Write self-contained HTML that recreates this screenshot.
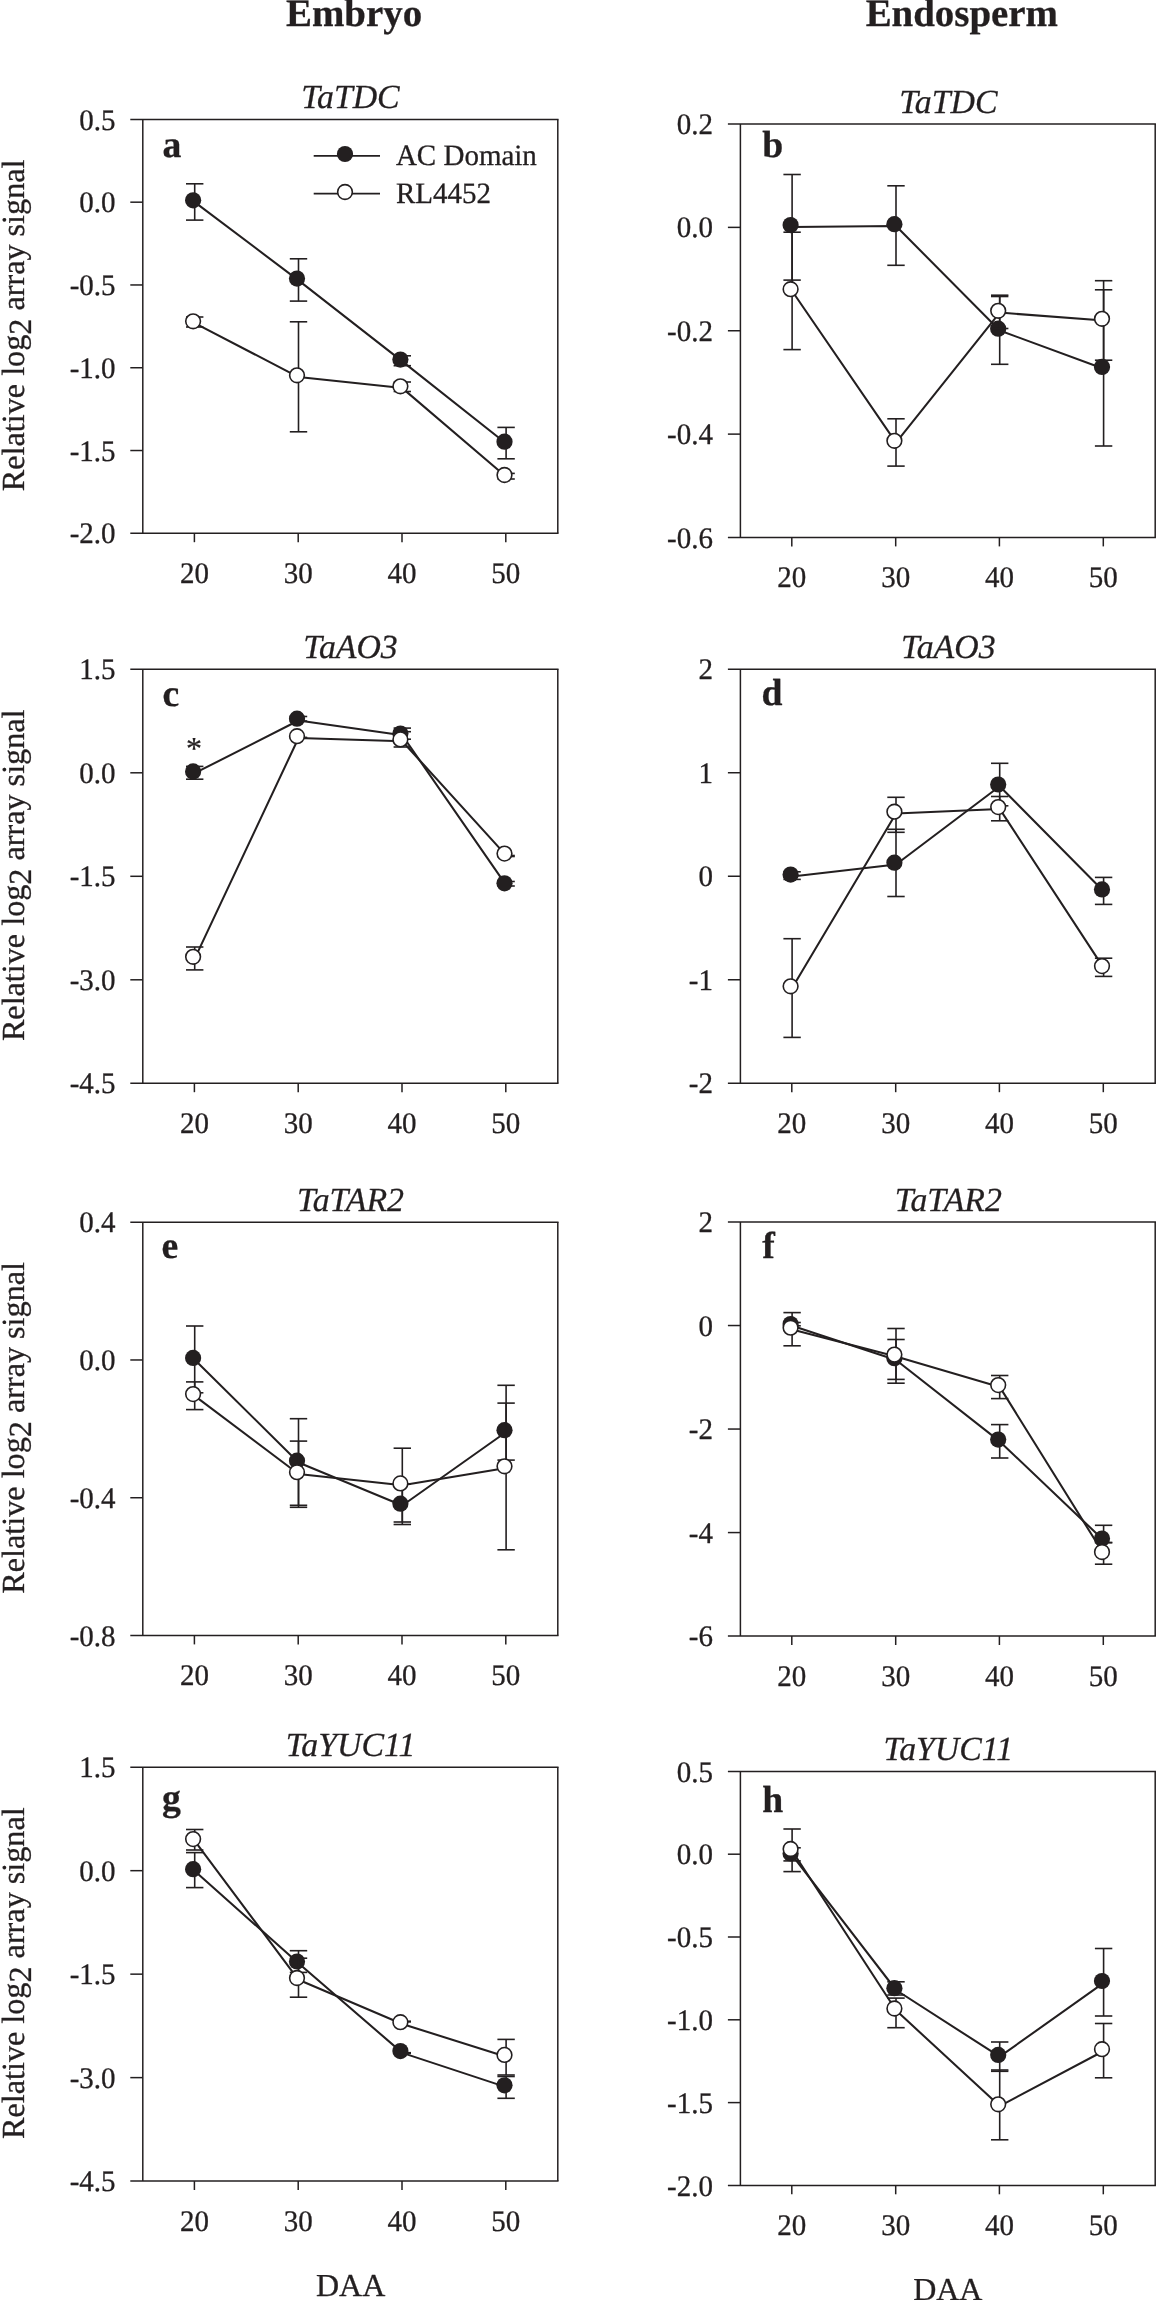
<!DOCTYPE html>
<html><head><meta charset="utf-8"><title>Figure</title>
<style>
html,body{margin:0;padding:0;background:#fff;}
svg{display:block;will-change:transform;font-family:"Liberation Serif",serif;fill:#231f20;}
text{text-rendering:geometricPrecision;stroke:#231f20;stroke-width:0.3px;stroke-linejoin:round;}
</style></head><body>
<svg width="1156" height="2300" viewBox="0 0 1156 2300">
<rect x="0" y="0" width="1156" height="2300" fill="#fff"/>
<g stroke="#231f20">
<line x1="130.3" y1="119.4" x2="558.55" y2="119.4" stroke-width="1.5"/>
<line x1="130.3" y1="533.3" x2="558.55" y2="533.3" stroke-width="1.5"/>
<line x1="142.8" y1="119.4" x2="142.8" y2="533.3" stroke-width="1.5"/>
<line x1="557.8" y1="119.4" x2="557.8" y2="533.3" stroke-width="1.5"/>
<line x1="130.3" y1="202.18" x2="142.8" y2="202.18" stroke-width="1.5"/>
<line x1="130.3" y1="284.96" x2="142.8" y2="284.96" stroke-width="1.5"/>
<line x1="130.3" y1="367.74" x2="142.8" y2="367.74" stroke-width="1.5"/>
<line x1="130.3" y1="450.52" x2="142.8" y2="450.52" stroke-width="1.5"/>
<line x1="194.4" y1="533.3" x2="194.4" y2="542.2" stroke-width="1.5"/>
<line x1="298.2" y1="533.3" x2="298.2" y2="542.2" stroke-width="1.5"/>
<line x1="402" y1="533.3" x2="402" y2="542.2" stroke-width="1.5"/>
<line x1="505.8" y1="533.3" x2="505.8" y2="542.2" stroke-width="1.5"/>
<path d="M194.7 202.1 L298.5 280.4 L402.3 361.4 L506.1 443.5" fill="none" stroke-width="2.05" stroke-linejoin="round"/>
<line x1="194.7" y1="183.8" x2="194.7" y2="220.1" stroke-width="1.6"/>
<line x1="186" y1="183.8" x2="203.4" y2="183.8" stroke-width="1.6"/>
<line x1="186" y1="220.1" x2="203.4" y2="220.1" stroke-width="1.6"/>
<line x1="298.5" y1="258.8" x2="298.5" y2="301.1" stroke-width="1.6"/>
<line x1="289.8" y1="258.8" x2="307.2" y2="258.8" stroke-width="1.6"/>
<line x1="289.8" y1="301.1" x2="307.2" y2="301.1" stroke-width="1.6"/>
<line x1="402.3" y1="355.8" x2="402.3" y2="365.7" stroke-width="1.6"/>
<line x1="393.6" y1="355.8" x2="411" y2="355.8" stroke-width="1.6"/>
<line x1="393.6" y1="365.7" x2="411" y2="365.7" stroke-width="1.6"/>
<line x1="506.1" y1="427.4" x2="506.1" y2="458.8" stroke-width="1.6"/>
<line x1="497.4" y1="427.4" x2="514.8" y2="427.4" stroke-width="1.6"/>
<line x1="497.4" y1="458.8" x2="514.8" y2="458.8" stroke-width="1.6"/>
<circle cx="193.1" cy="200.3" r="8.1" fill="#231f20" stroke="none"/>
<circle cx="297" cy="278.6" r="8.1" fill="#231f20" stroke="none"/>
<circle cx="400.4" cy="359.6" r="8.1" fill="#231f20" stroke="none"/>
<circle cx="504.5" cy="441.7" r="8.1" fill="#231f20" stroke="none"/>
<path d="M194.7 323.1 L298.5 377.1 L402.3 388.1 L506.1 476.8" fill="none" stroke-width="2.05" stroke-linejoin="round"/>
<line x1="194.7" y1="317" x2="194.7" y2="327" stroke-width="1.6"/>
<line x1="186" y1="317" x2="203.4" y2="317" stroke-width="1.6"/>
<line x1="186" y1="327" x2="203.4" y2="327" stroke-width="1.6"/>
<line x1="298.5" y1="321.8" x2="298.5" y2="431.8" stroke-width="1.6"/>
<line x1="289.8" y1="321.8" x2="307.2" y2="321.8" stroke-width="1.6"/>
<line x1="289.8" y1="431.8" x2="307.2" y2="431.8" stroke-width="1.6"/>
<line x1="402.3" y1="382" x2="402.3" y2="391.5" stroke-width="1.6"/>
<line x1="393.6" y1="382" x2="411" y2="382" stroke-width="1.6"/>
<line x1="393.6" y1="391.5" x2="411" y2="391.5" stroke-width="1.6"/>
<line x1="506.1" y1="473.4" x2="506.1" y2="479" stroke-width="1.6"/>
<line x1="497.4" y1="473.4" x2="514.8" y2="473.4" stroke-width="1.6"/>
<line x1="497.4" y1="479" x2="514.8" y2="479" stroke-width="1.6"/>
<circle cx="193.1" cy="321.3" r="7.35" fill="#fff" stroke-width="1.6"/>
<circle cx="297" cy="375.3" r="7.35" fill="#fff" stroke-width="1.6"/>
<circle cx="400.4" cy="386.3" r="7.35" fill="#fff" stroke-width="1.6"/>
<circle cx="504.5" cy="475" r="7.35" fill="#fff" stroke-width="1.6"/>
</g>
<text transform="translate(115.6 129.5) scale(1 1.03)" font-size="29" text-anchor="end">0.5</text>
<text transform="translate(115.6 212.28) scale(1 1.03)" font-size="29" text-anchor="end">0.0</text>
<text transform="translate(115.6 295.06) scale(1 1.03)" font-size="29" text-anchor="end">-0.5</text>
<text transform="translate(115.6 377.84) scale(1 1.03)" font-size="29" text-anchor="end">-1.0</text>
<text transform="translate(115.6 460.62) scale(1 1.03)" font-size="29" text-anchor="end">-1.5</text>
<text transform="translate(115.6 543.4) scale(1 1.03)" font-size="29" text-anchor="end">-2.0</text>
<text transform="translate(194.4 583.1) scale(1 1.03)" font-size="29" text-anchor="middle">20</text>
<text transform="translate(298.2 583.1) scale(1 1.03)" font-size="29" text-anchor="middle">30</text>
<text transform="translate(402 583.1) scale(1 1.03)" font-size="29" text-anchor="middle">40</text>
<text transform="translate(505.8 583.1) scale(1 1.03)" font-size="29" text-anchor="middle">50</text>
<text x="350.5" y="108.1" font-size="33.8" font-style="italic" text-anchor="middle">TaTDC</text>
<text x="162.5" y="156.5" font-size="37.7" font-weight="bold">a</text>
<text transform="translate(24.2 325.35) rotate(-90)" font-size="32.2" text-anchor="middle">Relative log<tspan dy="7">2</tspan><tspan dy="-7"> array signal</tspan></text>
<g stroke="#231f20">
<line x1="727.9" y1="124" x2="1155.95" y2="124" stroke-width="1.5"/>
<line x1="727.9" y1="537.5" x2="1155.95" y2="537.5" stroke-width="1.5"/>
<line x1="740.4" y1="124" x2="740.4" y2="537.5" stroke-width="1.5"/>
<line x1="1155.2" y1="124" x2="1155.2" y2="537.5" stroke-width="1.5"/>
<line x1="727.9" y1="227.38" x2="740.4" y2="227.38" stroke-width="1.5"/>
<line x1="727.9" y1="330.75" x2="740.4" y2="330.75" stroke-width="1.5"/>
<line x1="727.9" y1="434.12" x2="740.4" y2="434.12" stroke-width="1.5"/>
<line x1="791.8" y1="537.5" x2="791.8" y2="546.4" stroke-width="1.5"/>
<line x1="895.7" y1="537.5" x2="895.7" y2="546.4" stroke-width="1.5"/>
<line x1="999.4" y1="537.5" x2="999.4" y2="546.4" stroke-width="1.5"/>
<line x1="1103.3" y1="537.5" x2="1103.3" y2="546.4" stroke-width="1.5"/>
<path d="M792.1 226.9 L896 226 L999.7 330.5 L1103.6 368.7" fill="none" stroke-width="2.05" stroke-linejoin="round"/>
<line x1="792.1" y1="174.5" x2="792.1" y2="280.1" stroke-width="1.6"/>
<line x1="783.4" y1="174.5" x2="800.8" y2="174.5" stroke-width="1.6"/>
<line x1="783.4" y1="280.1" x2="800.8" y2="280.1" stroke-width="1.6"/>
<line x1="896" y1="185.8" x2="896" y2="265.3" stroke-width="1.6"/>
<line x1="887.3" y1="185.8" x2="904.7" y2="185.8" stroke-width="1.6"/>
<line x1="887.3" y1="265.3" x2="904.7" y2="265.3" stroke-width="1.6"/>
<line x1="999.7" y1="296.5" x2="999.7" y2="364.3" stroke-width="1.6"/>
<line x1="991" y1="296.5" x2="1008.4" y2="296.5" stroke-width="1.6"/>
<line x1="991" y1="364.3" x2="1008.4" y2="364.3" stroke-width="1.6"/>
<line x1="1103.6" y1="289.8" x2="1103.6" y2="446" stroke-width="1.6"/>
<line x1="1094.9" y1="289.8" x2="1112.3" y2="289.8" stroke-width="1.6"/>
<line x1="1094.9" y1="446" x2="1112.3" y2="446" stroke-width="1.6"/>
<circle cx="790.6" cy="225.1" r="8.1" fill="#231f20" stroke="none"/>
<circle cx="894.4" cy="224.2" r="8.1" fill="#231f20" stroke="none"/>
<circle cx="998.2" cy="328.7" r="8.1" fill="#231f20" stroke="none"/>
<circle cx="1102" cy="366.9" r="8.1" fill="#231f20" stroke="none"/>
<path d="M792.1 291 L896 442.6 L999.7 312.6 L1103.6 320.6" fill="none" stroke-width="2.05" stroke-linejoin="round"/>
<line x1="792.1" y1="232.2" x2="792.1" y2="349.6" stroke-width="1.6"/>
<line x1="783.4" y1="232.2" x2="800.8" y2="232.2" stroke-width="1.6"/>
<line x1="783.4" y1="349.6" x2="800.8" y2="349.6" stroke-width="1.6"/>
<line x1="896" y1="418.8" x2="896" y2="466.1" stroke-width="1.6"/>
<line x1="887.3" y1="418.8" x2="904.7" y2="418.8" stroke-width="1.6"/>
<line x1="887.3" y1="466.1" x2="904.7" y2="466.1" stroke-width="1.6"/>
<line x1="999.7" y1="295.2" x2="999.7" y2="328.5" stroke-width="1.6"/>
<line x1="991" y1="295.2" x2="1008.4" y2="295.2" stroke-width="1.6"/>
<line x1="991" y1="328.5" x2="1008.4" y2="328.5" stroke-width="1.6"/>
<line x1="1103.6" y1="280.7" x2="1103.6" y2="360.2" stroke-width="1.6"/>
<line x1="1094.9" y1="280.7" x2="1112.3" y2="280.7" stroke-width="1.6"/>
<line x1="1094.9" y1="360.2" x2="1112.3" y2="360.2" stroke-width="1.6"/>
<circle cx="790.6" cy="289.2" r="7.35" fill="#fff" stroke-width="1.6"/>
<circle cx="894.4" cy="440.8" r="7.35" fill="#fff" stroke-width="1.6"/>
<circle cx="998.2" cy="310.8" r="7.35" fill="#fff" stroke-width="1.6"/>
<circle cx="1102" cy="318.8" r="7.35" fill="#fff" stroke-width="1.6"/>
</g>
<text transform="translate(713 134.1) scale(1 1.03)" font-size="29" text-anchor="end">0.2</text>
<text transform="translate(713 237.47) scale(1 1.03)" font-size="29" text-anchor="end">0.0</text>
<text transform="translate(713 340.85) scale(1 1.03)" font-size="29" text-anchor="end">-0.2</text>
<text transform="translate(713 444.23) scale(1 1.03)" font-size="29" text-anchor="end">-0.4</text>
<text transform="translate(713 547.6) scale(1 1.03)" font-size="29" text-anchor="end">-0.6</text>
<text transform="translate(791.8 587.3) scale(1 1.03)" font-size="29" text-anchor="middle">20</text>
<text transform="translate(895.7 587.3) scale(1 1.03)" font-size="29" text-anchor="middle">30</text>
<text transform="translate(999.4 587.3) scale(1 1.03)" font-size="29" text-anchor="middle">40</text>
<text transform="translate(1103.3 587.3) scale(1 1.03)" font-size="29" text-anchor="middle">50</text>
<text x="948.3" y="112.7" font-size="33.8" font-style="italic" text-anchor="middle">TaTDC</text>
<text x="762.3" y="156.5" font-size="37.7" font-weight="bold">b</text>
<g stroke="#231f20">
<line x1="130.3" y1="669.3" x2="558.55" y2="669.3" stroke-width="1.5"/>
<line x1="130.3" y1="1083.3" x2="558.55" y2="1083.3" stroke-width="1.5"/>
<line x1="142.8" y1="669.3" x2="142.8" y2="1083.3" stroke-width="1.5"/>
<line x1="557.8" y1="669.3" x2="557.8" y2="1083.3" stroke-width="1.5"/>
<line x1="130.3" y1="772.8" x2="142.8" y2="772.8" stroke-width="1.5"/>
<line x1="130.3" y1="876.3" x2="142.8" y2="876.3" stroke-width="1.5"/>
<line x1="130.3" y1="979.8" x2="142.8" y2="979.8" stroke-width="1.5"/>
<line x1="194.4" y1="1083.3" x2="194.4" y2="1092.2" stroke-width="1.5"/>
<line x1="298.2" y1="1083.3" x2="298.2" y2="1092.2" stroke-width="1.5"/>
<line x1="402" y1="1083.3" x2="402" y2="1092.2" stroke-width="1.5"/>
<line x1="505.8" y1="1083.3" x2="505.8" y2="1092.2" stroke-width="1.5"/>
<path d="M194.7 773.2 L298.5 720.5 L402.3 735.3 L506.1 885.1" fill="none" stroke-width="2.05" stroke-linejoin="round"/>
<line x1="194.7" y1="766.4" x2="194.7" y2="779.2" stroke-width="1.6"/>
<line x1="186" y1="766.4" x2="203.4" y2="766.4" stroke-width="1.6"/>
<line x1="186" y1="779.2" x2="203.4" y2="779.2" stroke-width="1.6"/>
<line x1="298.5" y1="716.5" x2="298.5" y2="721" stroke-width="1.6"/>
<line x1="289.8" y1="716.5" x2="307.2" y2="716.5" stroke-width="1.6"/>
<line x1="289.8" y1="721" x2="307.2" y2="721" stroke-width="1.6"/>
<line x1="402.3" y1="728.1" x2="402.3" y2="739.2" stroke-width="1.6"/>
<line x1="393.6" y1="728.1" x2="411" y2="728.1" stroke-width="1.6"/>
<line x1="393.6" y1="739.2" x2="411" y2="739.2" stroke-width="1.6"/>
<line x1="506.1" y1="881.5" x2="506.1" y2="886" stroke-width="1.6"/>
<line x1="497.4" y1="881.5" x2="514.8" y2="881.5" stroke-width="1.6"/>
<line x1="497.4" y1="886" x2="514.8" y2="886" stroke-width="1.6"/>
<circle cx="193.1" cy="771.4" r="8.1" fill="#231f20" stroke="none"/>
<circle cx="297" cy="718.7" r="8.1" fill="#231f20" stroke="none"/>
<circle cx="400.4" cy="733.5" r="8.1" fill="#231f20" stroke="none"/>
<circle cx="504.5" cy="883.3" r="8.1" fill="#231f20" stroke="none"/>
<path d="M194.7 958.6 L298.5 738 L402.3 741.2 L506.1 855.4" fill="none" stroke-width="2.05" stroke-linejoin="round"/>
<line x1="194.7" y1="947" x2="194.7" y2="969.9" stroke-width="1.6"/>
<line x1="186" y1="947" x2="203.4" y2="947" stroke-width="1.6"/>
<line x1="186" y1="969.9" x2="203.4" y2="969.9" stroke-width="1.6"/>
<line x1="298.5" y1="737.4" x2="298.5" y2="738.2" stroke-width="1.6"/>
<line x1="289.8" y1="737.4" x2="307.2" y2="737.4" stroke-width="1.6"/>
<line x1="289.8" y1="738.2" x2="307.2" y2="738.2" stroke-width="1.6"/>
<line x1="402.3" y1="731.7" x2="402.3" y2="747" stroke-width="1.6"/>
<line x1="393.6" y1="731.7" x2="411" y2="731.7" stroke-width="1.6"/>
<line x1="393.6" y1="747" x2="411" y2="747" stroke-width="1.6"/>
<line x1="506.1" y1="855.5" x2="506.1" y2="856.5" stroke-width="1.6"/>
<line x1="497.4" y1="855.5" x2="514.8" y2="855.5" stroke-width="1.6"/>
<line x1="497.4" y1="856.5" x2="514.8" y2="856.5" stroke-width="1.6"/>
<circle cx="193.1" cy="956.8" r="7.35" fill="#fff" stroke-width="1.6"/>
<circle cx="297" cy="736.2" r="7.35" fill="#fff" stroke-width="1.6"/>
<circle cx="400.4" cy="739.4" r="7.35" fill="#fff" stroke-width="1.6"/>
<circle cx="504.5" cy="853.6" r="7.35" fill="#fff" stroke-width="1.6"/>
</g>
<text transform="translate(115.6 679.4) scale(1 1.03)" font-size="29" text-anchor="end">1.5</text>
<text transform="translate(115.6 782.9) scale(1 1.03)" font-size="29" text-anchor="end">0.0</text>
<text transform="translate(115.6 886.4) scale(1 1.03)" font-size="29" text-anchor="end">-1.5</text>
<text transform="translate(115.6 989.9) scale(1 1.03)" font-size="29" text-anchor="end">-3.0</text>
<text transform="translate(115.6 1093.4) scale(1 1.03)" font-size="29" text-anchor="end">-4.5</text>
<text transform="translate(194.4 1133.1) scale(1 1.03)" font-size="29" text-anchor="middle">20</text>
<text transform="translate(298.2 1133.1) scale(1 1.03)" font-size="29" text-anchor="middle">30</text>
<text transform="translate(402 1133.1) scale(1 1.03)" font-size="29" text-anchor="middle">40</text>
<text transform="translate(505.8 1133.1) scale(1 1.03)" font-size="29" text-anchor="middle">50</text>
<text x="350.5" y="658" font-size="33.8" font-style="italic" text-anchor="middle">TaAO3</text>
<text x="162.5" y="705.5" font-size="37.7" font-weight="bold">c</text>
<text transform="translate(24.2 875.3) rotate(-90)" font-size="32.2" text-anchor="middle">Relative log<tspan dy="7">2</tspan><tspan dy="-7"> array signal</tspan></text>
<g stroke="#231f20">
<line x1="727.9" y1="669.2" x2="1155.95" y2="669.2" stroke-width="1.5"/>
<line x1="727.9" y1="1083.3" x2="1155.95" y2="1083.3" stroke-width="1.5"/>
<line x1="740.4" y1="669.2" x2="740.4" y2="1083.3" stroke-width="1.5"/>
<line x1="1155.2" y1="669.2" x2="1155.2" y2="1083.3" stroke-width="1.5"/>
<line x1="727.9" y1="772.73" x2="740.4" y2="772.73" stroke-width="1.5"/>
<line x1="727.9" y1="876.25" x2="740.4" y2="876.25" stroke-width="1.5"/>
<line x1="727.9" y1="979.77" x2="740.4" y2="979.77" stroke-width="1.5"/>
<line x1="791.8" y1="1083.3" x2="791.8" y2="1092.2" stroke-width="1.5"/>
<line x1="895.7" y1="1083.3" x2="895.7" y2="1092.2" stroke-width="1.5"/>
<line x1="999.4" y1="1083.3" x2="999.4" y2="1092.2" stroke-width="1.5"/>
<line x1="1103.3" y1="1083.3" x2="1103.3" y2="1092.2" stroke-width="1.5"/>
<path d="M792.1 876.4 L896 864.5 L999.7 786.3 L1103.6 891.2" fill="none" stroke-width="2.05" stroke-linejoin="round"/>
<line x1="792.1" y1="871.8" x2="792.1" y2="879.4" stroke-width="1.6"/>
<line x1="783.4" y1="871.8" x2="800.8" y2="871.8" stroke-width="1.6"/>
<line x1="783.4" y1="879.4" x2="800.8" y2="879.4" stroke-width="1.6"/>
<line x1="896" y1="829.3" x2="896" y2="896.5" stroke-width="1.6"/>
<line x1="887.3" y1="829.3" x2="904.7" y2="829.3" stroke-width="1.6"/>
<line x1="887.3" y1="896.5" x2="904.7" y2="896.5" stroke-width="1.6"/>
<line x1="999.7" y1="763.3" x2="999.7" y2="805.8" stroke-width="1.6"/>
<line x1="991" y1="763.3" x2="1008.4" y2="763.3" stroke-width="1.6"/>
<line x1="991" y1="805.8" x2="1008.4" y2="805.8" stroke-width="1.6"/>
<line x1="1103.6" y1="877.4" x2="1103.6" y2="904.4" stroke-width="1.6"/>
<line x1="1094.9" y1="877.4" x2="1112.3" y2="877.4" stroke-width="1.6"/>
<line x1="1094.9" y1="904.4" x2="1112.3" y2="904.4" stroke-width="1.6"/>
<circle cx="790.6" cy="874.6" r="8.1" fill="#231f20" stroke="none"/>
<circle cx="894.4" cy="862.7" r="8.1" fill="#231f20" stroke="none"/>
<circle cx="998.2" cy="784.5" r="8.1" fill="#231f20" stroke="none"/>
<circle cx="1102" cy="889.4" r="8.1" fill="#231f20" stroke="none"/>
<path d="M792.1 988.1 L896 813.5 L999.7 808.9 L1103.6 967.9" fill="none" stroke-width="2.05" stroke-linejoin="round"/>
<line x1="792.1" y1="938.7" x2="792.1" y2="1037.4" stroke-width="1.6"/>
<line x1="783.4" y1="938.7" x2="800.8" y2="938.7" stroke-width="1.6"/>
<line x1="783.4" y1="1037.4" x2="800.8" y2="1037.4" stroke-width="1.6"/>
<line x1="896" y1="797.3" x2="896" y2="832.3" stroke-width="1.6"/>
<line x1="887.3" y1="797.3" x2="904.7" y2="797.3" stroke-width="1.6"/>
<line x1="887.3" y1="832.3" x2="904.7" y2="832.3" stroke-width="1.6"/>
<line x1="999.7" y1="796.5" x2="999.7" y2="820.8" stroke-width="1.6"/>
<line x1="991" y1="796.5" x2="1008.4" y2="796.5" stroke-width="1.6"/>
<line x1="991" y1="820.8" x2="1008.4" y2="820.8" stroke-width="1.6"/>
<line x1="1103.6" y1="958.2" x2="1103.6" y2="976.4" stroke-width="1.6"/>
<line x1="1094.9" y1="958.2" x2="1112.3" y2="958.2" stroke-width="1.6"/>
<line x1="1094.9" y1="976.4" x2="1112.3" y2="976.4" stroke-width="1.6"/>
<circle cx="790.6" cy="986.3" r="7.35" fill="#fff" stroke-width="1.6"/>
<circle cx="894.4" cy="811.7" r="7.35" fill="#fff" stroke-width="1.6"/>
<circle cx="998.2" cy="807.1" r="7.35" fill="#fff" stroke-width="1.6"/>
<circle cx="1102" cy="966.1" r="7.35" fill="#fff" stroke-width="1.6"/>
</g>
<text transform="translate(713 679.3) scale(1 1.03)" font-size="29" text-anchor="end">2</text>
<text transform="translate(713 782.83) scale(1 1.03)" font-size="29" text-anchor="end">1</text>
<text transform="translate(713 886.35) scale(1 1.03)" font-size="29" text-anchor="end">0</text>
<text transform="translate(713 989.88) scale(1 1.03)" font-size="29" text-anchor="end">-1</text>
<text transform="translate(713 1093.4) scale(1 1.03)" font-size="29" text-anchor="end">-2</text>
<text transform="translate(791.8 1133.1) scale(1 1.03)" font-size="29" text-anchor="middle">20</text>
<text transform="translate(895.7 1133.1) scale(1 1.03)" font-size="29" text-anchor="middle">30</text>
<text transform="translate(999.4 1133.1) scale(1 1.03)" font-size="29" text-anchor="middle">40</text>
<text transform="translate(1103.3 1133.1) scale(1 1.03)" font-size="29" text-anchor="middle">50</text>
<text x="948.3" y="657.9" font-size="33.8" font-style="italic" text-anchor="middle">TaAO3</text>
<text x="761.5" y="705.4" font-size="37.7" font-weight="bold">d</text>
<g stroke="#231f20">
<line x1="130.3" y1="1222.2" x2="558.55" y2="1222.2" stroke-width="1.5"/>
<line x1="130.3" y1="1635.5" x2="558.55" y2="1635.5" stroke-width="1.5"/>
<line x1="142.8" y1="1222.2" x2="142.8" y2="1635.5" stroke-width="1.5"/>
<line x1="557.8" y1="1222.2" x2="557.8" y2="1635.5" stroke-width="1.5"/>
<line x1="130.3" y1="1359.97" x2="142.8" y2="1359.97" stroke-width="1.5"/>
<line x1="130.3" y1="1497.73" x2="142.8" y2="1497.73" stroke-width="1.5"/>
<line x1="194.4" y1="1635.5" x2="194.4" y2="1644.4" stroke-width="1.5"/>
<line x1="298.2" y1="1635.5" x2="298.2" y2="1644.4" stroke-width="1.5"/>
<line x1="402" y1="1635.5" x2="402" y2="1644.4" stroke-width="1.5"/>
<line x1="505.8" y1="1635.5" x2="505.8" y2="1644.4" stroke-width="1.5"/>
<path d="M194.7 1359.7 L298.5 1462.5 L402.3 1505.5 L506.1 1432" fill="none" stroke-width="2.05" stroke-linejoin="round"/>
<line x1="194.7" y1="1326" x2="194.7" y2="1392.8" stroke-width="1.6"/>
<line x1="186" y1="1326" x2="203.4" y2="1326" stroke-width="1.6"/>
<line x1="186" y1="1392.8" x2="203.4" y2="1392.8" stroke-width="1.6"/>
<line x1="298.5" y1="1418.7" x2="298.5" y2="1505.3" stroke-width="1.6"/>
<line x1="289.8" y1="1418.7" x2="307.2" y2="1418.7" stroke-width="1.6"/>
<line x1="289.8" y1="1505.3" x2="307.2" y2="1505.3" stroke-width="1.6"/>
<line x1="402.3" y1="1484" x2="402.3" y2="1522" stroke-width="1.6"/>
<line x1="393.6" y1="1484" x2="411" y2="1484" stroke-width="1.6"/>
<line x1="393.6" y1="1522" x2="411" y2="1522" stroke-width="1.6"/>
<line x1="506.1" y1="1403.1" x2="506.1" y2="1460.1" stroke-width="1.6"/>
<line x1="497.4" y1="1403.1" x2="514.8" y2="1403.1" stroke-width="1.6"/>
<line x1="497.4" y1="1460.1" x2="514.8" y2="1460.1" stroke-width="1.6"/>
<circle cx="193.1" cy="1357.9" r="8.1" fill="#231f20" stroke="none"/>
<circle cx="297" cy="1460.7" r="8.1" fill="#231f20" stroke="none"/>
<circle cx="400.4" cy="1503.7" r="8.1" fill="#231f20" stroke="none"/>
<circle cx="504.5" cy="1430.2" r="8.1" fill="#231f20" stroke="none"/>
<path d="M194.7 1395.9 L298.5 1474 L402.3 1485.2 L506.1 1468.1" fill="none" stroke-width="2.05" stroke-linejoin="round"/>
<line x1="194.7" y1="1381.9" x2="194.7" y2="1409.6" stroke-width="1.6"/>
<line x1="186" y1="1381.9" x2="203.4" y2="1381.9" stroke-width="1.6"/>
<line x1="186" y1="1409.6" x2="203.4" y2="1409.6" stroke-width="1.6"/>
<line x1="298.5" y1="1441.1" x2="298.5" y2="1507.3" stroke-width="1.6"/>
<line x1="289.8" y1="1441.1" x2="307.2" y2="1441.1" stroke-width="1.6"/>
<line x1="289.8" y1="1507.3" x2="307.2" y2="1507.3" stroke-width="1.6"/>
<line x1="402.3" y1="1448.2" x2="402.3" y2="1524.5" stroke-width="1.6"/>
<line x1="393.6" y1="1448.2" x2="411" y2="1448.2" stroke-width="1.6"/>
<line x1="393.6" y1="1524.5" x2="411" y2="1524.5" stroke-width="1.6"/>
<line x1="506.1" y1="1385.3" x2="506.1" y2="1549.8" stroke-width="1.6"/>
<line x1="497.4" y1="1385.3" x2="514.8" y2="1385.3" stroke-width="1.6"/>
<line x1="497.4" y1="1549.8" x2="514.8" y2="1549.8" stroke-width="1.6"/>
<circle cx="193.1" cy="1394.1" r="7.35" fill="#fff" stroke-width="1.6"/>
<circle cx="297" cy="1472.2" r="7.35" fill="#fff" stroke-width="1.6"/>
<circle cx="400.4" cy="1483.4" r="7.35" fill="#fff" stroke-width="1.6"/>
<circle cx="504.5" cy="1466.3" r="7.35" fill="#fff" stroke-width="1.6"/>
</g>
<text transform="translate(115.6 1232.3) scale(1 1.03)" font-size="29" text-anchor="end">0.4</text>
<text transform="translate(115.6 1370.07) scale(1 1.03)" font-size="29" text-anchor="end">0.0</text>
<text transform="translate(115.6 1507.83) scale(1 1.03)" font-size="29" text-anchor="end">-0.4</text>
<text transform="translate(115.6 1645.6) scale(1 1.03)" font-size="29" text-anchor="end">-0.8</text>
<text transform="translate(194.4 1685.3) scale(1 1.03)" font-size="29" text-anchor="middle">20</text>
<text transform="translate(298.2 1685.3) scale(1 1.03)" font-size="29" text-anchor="middle">30</text>
<text transform="translate(402 1685.3) scale(1 1.03)" font-size="29" text-anchor="middle">40</text>
<text transform="translate(505.8 1685.3) scale(1 1.03)" font-size="29" text-anchor="middle">50</text>
<text x="350.5" y="1210.9" font-size="33.8" font-style="italic" text-anchor="middle">TaTAR2</text>
<text x="161.5" y="1258.1" font-size="37.7" font-weight="bold">e</text>
<text transform="translate(24.2 1427.85) rotate(-90)" font-size="32.2" text-anchor="middle">Relative log<tspan dy="7">2</tspan><tspan dy="-7"> array signal</tspan></text>
<g stroke="#231f20">
<line x1="727.9" y1="1222" x2="1155.95" y2="1222" stroke-width="1.5"/>
<line x1="727.9" y1="1636.1" x2="1155.95" y2="1636.1" stroke-width="1.5"/>
<line x1="740.4" y1="1222" x2="740.4" y2="1636.1" stroke-width="1.5"/>
<line x1="1155.2" y1="1222" x2="1155.2" y2="1636.1" stroke-width="1.5"/>
<line x1="727.9" y1="1325.53" x2="740.4" y2="1325.53" stroke-width="1.5"/>
<line x1="727.9" y1="1429.05" x2="740.4" y2="1429.05" stroke-width="1.5"/>
<line x1="727.9" y1="1532.57" x2="740.4" y2="1532.57" stroke-width="1.5"/>
<line x1="791.8" y1="1636.1" x2="791.8" y2="1645" stroke-width="1.5"/>
<line x1="895.7" y1="1636.1" x2="895.7" y2="1645" stroke-width="1.5"/>
<line x1="999.4" y1="1636.1" x2="999.4" y2="1645" stroke-width="1.5"/>
<line x1="1103.3" y1="1636.1" x2="1103.3" y2="1645" stroke-width="1.5"/>
<path d="M792.1 1325.8 L896 1360 L999.7 1441.4 L1103.6 1540.3" fill="none" stroke-width="2.05" stroke-linejoin="round"/>
<line x1="792.1" y1="1322.5" x2="792.1" y2="1325.8" stroke-width="1.6"/>
<line x1="783.4" y1="1322.5" x2="800.8" y2="1322.5" stroke-width="1.6"/>
<line x1="783.4" y1="1325.8" x2="800.8" y2="1325.8" stroke-width="1.6"/>
<line x1="896" y1="1339.5" x2="896" y2="1379.4" stroke-width="1.6"/>
<line x1="887.3" y1="1339.5" x2="904.7" y2="1339.5" stroke-width="1.6"/>
<line x1="887.3" y1="1379.4" x2="904.7" y2="1379.4" stroke-width="1.6"/>
<line x1="999.7" y1="1424.6" x2="999.7" y2="1458" stroke-width="1.6"/>
<line x1="991" y1="1424.6" x2="1008.4" y2="1424.6" stroke-width="1.6"/>
<line x1="991" y1="1458" x2="1008.4" y2="1458" stroke-width="1.6"/>
<line x1="1103.6" y1="1525.3" x2="1103.6" y2="1542.6" stroke-width="1.6"/>
<line x1="1094.9" y1="1525.3" x2="1112.3" y2="1525.3" stroke-width="1.6"/>
<line x1="1094.9" y1="1542.6" x2="1112.3" y2="1542.6" stroke-width="1.6"/>
<circle cx="790.6" cy="1324" r="8.1" fill="#231f20" stroke="none"/>
<circle cx="894.4" cy="1358.2" r="8.1" fill="#231f20" stroke="none"/>
<circle cx="998.2" cy="1439.6" r="8.1" fill="#231f20" stroke="none"/>
<circle cx="1102" cy="1538.5" r="8.1" fill="#231f20" stroke="none"/>
<path d="M792.1 1329.5 L896 1356.4 L999.7 1386.9 L1103.6 1553.8" fill="none" stroke-width="2.05" stroke-linejoin="round"/>
<line x1="792.1" y1="1312.6" x2="792.1" y2="1345.8" stroke-width="1.6"/>
<line x1="783.4" y1="1312.6" x2="800.8" y2="1312.6" stroke-width="1.6"/>
<line x1="783.4" y1="1345.8" x2="800.8" y2="1345.8" stroke-width="1.6"/>
<line x1="896" y1="1328.5" x2="896" y2="1383.2" stroke-width="1.6"/>
<line x1="887.3" y1="1328.5" x2="904.7" y2="1328.5" stroke-width="1.6"/>
<line x1="887.3" y1="1383.2" x2="904.7" y2="1383.2" stroke-width="1.6"/>
<line x1="999.7" y1="1375.5" x2="999.7" y2="1398.6" stroke-width="1.6"/>
<line x1="991" y1="1375.5" x2="1008.4" y2="1375.5" stroke-width="1.6"/>
<line x1="991" y1="1398.6" x2="1008.4" y2="1398.6" stroke-width="1.6"/>
<line x1="1103.6" y1="1542.6" x2="1103.6" y2="1564.2" stroke-width="1.6"/>
<line x1="1094.9" y1="1542.6" x2="1112.3" y2="1542.6" stroke-width="1.6"/>
<line x1="1094.9" y1="1564.2" x2="1112.3" y2="1564.2" stroke-width="1.6"/>
<circle cx="790.6" cy="1327.7" r="7.35" fill="#fff" stroke-width="1.6"/>
<circle cx="894.4" cy="1354.6" r="7.35" fill="#fff" stroke-width="1.6"/>
<circle cx="998.2" cy="1385.1" r="7.35" fill="#fff" stroke-width="1.6"/>
<circle cx="1102" cy="1552" r="7.35" fill="#fff" stroke-width="1.6"/>
</g>
<text transform="translate(713 1232.1) scale(1 1.03)" font-size="29" text-anchor="end">2</text>
<text transform="translate(713 1335.62) scale(1 1.03)" font-size="29" text-anchor="end">0</text>
<text transform="translate(713 1439.15) scale(1 1.03)" font-size="29" text-anchor="end">-2</text>
<text transform="translate(713 1542.67) scale(1 1.03)" font-size="29" text-anchor="end">-4</text>
<text transform="translate(713 1646.2) scale(1 1.03)" font-size="29" text-anchor="end">-6</text>
<text transform="translate(791.8 1685.9) scale(1 1.03)" font-size="29" text-anchor="middle">20</text>
<text transform="translate(895.7 1685.9) scale(1 1.03)" font-size="29" text-anchor="middle">30</text>
<text transform="translate(999.4 1685.9) scale(1 1.03)" font-size="29" text-anchor="middle">40</text>
<text transform="translate(1103.3 1685.9) scale(1 1.03)" font-size="29" text-anchor="middle">50</text>
<text x="948.3" y="1210.7" font-size="33.8" font-style="italic" text-anchor="middle">TaTAR2</text>
<text x="762.3" y="1257.6" font-size="37.7" font-weight="bold">f</text>
<g stroke="#231f20">
<line x1="130.3" y1="1767.2" x2="558.55" y2="1767.2" stroke-width="1.5"/>
<line x1="130.3" y1="2181.1" x2="558.55" y2="2181.1" stroke-width="1.5"/>
<line x1="142.8" y1="1767.2" x2="142.8" y2="2181.1" stroke-width="1.5"/>
<line x1="557.8" y1="1767.2" x2="557.8" y2="2181.1" stroke-width="1.5"/>
<line x1="130.3" y1="1870.67" x2="142.8" y2="1870.67" stroke-width="1.5"/>
<line x1="130.3" y1="1974.15" x2="142.8" y2="1974.15" stroke-width="1.5"/>
<line x1="130.3" y1="2077.62" x2="142.8" y2="2077.62" stroke-width="1.5"/>
<line x1="194.4" y1="2181.1" x2="194.4" y2="2190" stroke-width="1.5"/>
<line x1="298.2" y1="2181.1" x2="298.2" y2="2190" stroke-width="1.5"/>
<line x1="402" y1="2181.1" x2="402" y2="2190" stroke-width="1.5"/>
<line x1="505.8" y1="2181.1" x2="505.8" y2="2190" stroke-width="1.5"/>
<path d="M194.7 1871 L298.5 1963.3 L402.3 2052.9 L506.1 2087.1" fill="none" stroke-width="2.05" stroke-linejoin="round"/>
<line x1="194.7" y1="1852.6" x2="194.7" y2="1887.6" stroke-width="1.6"/>
<line x1="186" y1="1852.6" x2="203.4" y2="1852.6" stroke-width="1.6"/>
<line x1="186" y1="1887.6" x2="203.4" y2="1887.6" stroke-width="1.6"/>
<line x1="298.5" y1="1950.7" x2="298.5" y2="1972.4" stroke-width="1.6"/>
<line x1="289.8" y1="1950.7" x2="307.2" y2="1950.7" stroke-width="1.6"/>
<line x1="289.8" y1="1972.4" x2="307.2" y2="1972.4" stroke-width="1.6"/>
<line x1="402.3" y1="2052.7" x2="402.3" y2="2053.4" stroke-width="1.6"/>
<line x1="393.6" y1="2052.7" x2="411" y2="2052.7" stroke-width="1.6"/>
<line x1="393.6" y1="2053.4" x2="411" y2="2053.4" stroke-width="1.6"/>
<line x1="506.1" y1="2076.5" x2="506.1" y2="2098.3" stroke-width="1.6"/>
<line x1="497.4" y1="2076.5" x2="514.8" y2="2076.5" stroke-width="1.6"/>
<line x1="497.4" y1="2098.3" x2="514.8" y2="2098.3" stroke-width="1.6"/>
<circle cx="193.1" cy="1869.2" r="8.1" fill="#231f20" stroke="none"/>
<circle cx="297" cy="1961.5" r="8.1" fill="#231f20" stroke="none"/>
<circle cx="400.4" cy="2051.1" r="8.1" fill="#231f20" stroke="none"/>
<circle cx="504.5" cy="2085.3" r="8.1" fill="#231f20" stroke="none"/>
<path d="M194.7 1840.9 L298.5 1979.8 L402.3 2024 L506.1 2056.7" fill="none" stroke-width="2.05" stroke-linejoin="round"/>
<line x1="194.7" y1="1829.5" x2="194.7" y2="1850" stroke-width="1.6"/>
<line x1="186" y1="1829.5" x2="203.4" y2="1829.5" stroke-width="1.6"/>
<line x1="186" y1="1850" x2="203.4" y2="1850" stroke-width="1.6"/>
<line x1="298.5" y1="1958.2" x2="298.5" y2="1997.2" stroke-width="1.6"/>
<line x1="289.8" y1="1958.2" x2="307.2" y2="1958.2" stroke-width="1.6"/>
<line x1="289.8" y1="1997.2" x2="307.2" y2="1997.2" stroke-width="1.6"/>
<line x1="402.3" y1="2021.2" x2="402.3" y2="2021.9" stroke-width="1.6"/>
<line x1="393.6" y1="2021.2" x2="411" y2="2021.2" stroke-width="1.6"/>
<line x1="393.6" y1="2021.9" x2="411" y2="2021.9" stroke-width="1.6"/>
<line x1="506.1" y1="2039.4" x2="506.1" y2="2075" stroke-width="1.6"/>
<line x1="497.4" y1="2039.4" x2="514.8" y2="2039.4" stroke-width="1.6"/>
<line x1="497.4" y1="2075" x2="514.8" y2="2075" stroke-width="1.6"/>
<circle cx="193.1" cy="1839.1" r="7.35" fill="#fff" stroke-width="1.6"/>
<circle cx="297" cy="1978" r="7.35" fill="#fff" stroke-width="1.6"/>
<circle cx="400.4" cy="2022.2" r="7.35" fill="#fff" stroke-width="1.6"/>
<circle cx="504.5" cy="2054.9" r="7.35" fill="#fff" stroke-width="1.6"/>
</g>
<text transform="translate(115.6 1777.3) scale(1 1.03)" font-size="29" text-anchor="end">1.5</text>
<text transform="translate(115.6 1880.77) scale(1 1.03)" font-size="29" text-anchor="end">0.0</text>
<text transform="translate(115.6 1984.25) scale(1 1.03)" font-size="29" text-anchor="end">-1.5</text>
<text transform="translate(115.6 2087.72) scale(1 1.03)" font-size="29" text-anchor="end">-3.0</text>
<text transform="translate(115.6 2191.2) scale(1 1.03)" font-size="29" text-anchor="end">-4.5</text>
<text transform="translate(194.4 2230.9) scale(1 1.03)" font-size="29" text-anchor="middle">20</text>
<text transform="translate(298.2 2230.9) scale(1 1.03)" font-size="29" text-anchor="middle">30</text>
<text transform="translate(402 2230.9) scale(1 1.03)" font-size="29" text-anchor="middle">40</text>
<text transform="translate(505.8 2230.9) scale(1 1.03)" font-size="29" text-anchor="middle">50</text>
<text x="350.5" y="1755.9" font-size="33.8" font-style="italic" text-anchor="middle">TaYUC11</text>
<text x="162" y="1809.8" font-size="37.7" font-weight="bold">g</text>
<text transform="translate(24.2 1973.15) rotate(-90)" font-size="32.2" text-anchor="middle">Relative log<tspan dy="7">2</tspan><tspan dy="-7"> array signal</tspan></text>
<g stroke="#231f20">
<line x1="727.9" y1="1771.4" x2="1155.95" y2="1771.4" stroke-width="1.5"/>
<line x1="727.9" y1="2185.4" x2="1155.95" y2="2185.4" stroke-width="1.5"/>
<line x1="740.4" y1="1771.4" x2="740.4" y2="2185.4" stroke-width="1.5"/>
<line x1="1155.2" y1="1771.4" x2="1155.2" y2="2185.4" stroke-width="1.5"/>
<line x1="727.9" y1="1854.2" x2="740.4" y2="1854.2" stroke-width="1.5"/>
<line x1="727.9" y1="1937" x2="740.4" y2="1937" stroke-width="1.5"/>
<line x1="727.9" y1="2019.8" x2="740.4" y2="2019.8" stroke-width="1.5"/>
<line x1="727.9" y1="2102.6" x2="740.4" y2="2102.6" stroke-width="1.5"/>
<line x1="791.8" y1="2185.4" x2="791.8" y2="2194.3" stroke-width="1.5"/>
<line x1="895.7" y1="2185.4" x2="895.7" y2="2194.3" stroke-width="1.5"/>
<line x1="999.4" y1="2185.4" x2="999.4" y2="2194.3" stroke-width="1.5"/>
<line x1="1103.3" y1="2185.4" x2="1103.3" y2="2194.3" stroke-width="1.5"/>
<path d="M792.1 1855.2 L896 1990 L999.7 2056.7 L1103.6 1982.8" fill="none" stroke-width="2.05" stroke-linejoin="round"/>
<line x1="792.1" y1="1847.8" x2="792.1" y2="1860.9" stroke-width="1.6"/>
<line x1="783.4" y1="1847.8" x2="800.8" y2="1847.8" stroke-width="1.6"/>
<line x1="783.4" y1="1860.9" x2="800.8" y2="1860.9" stroke-width="1.6"/>
<line x1="896" y1="1981.8" x2="896" y2="1995" stroke-width="1.6"/>
<line x1="887.3" y1="1981.8" x2="904.7" y2="1981.8" stroke-width="1.6"/>
<line x1="887.3" y1="1995" x2="904.7" y2="1995" stroke-width="1.6"/>
<line x1="999.7" y1="2042" x2="999.7" y2="2071.3" stroke-width="1.6"/>
<line x1="991" y1="2042" x2="1008.4" y2="2042" stroke-width="1.6"/>
<line x1="991" y1="2071.3" x2="1008.4" y2="2071.3" stroke-width="1.6"/>
<line x1="1103.6" y1="1948.5" x2="1103.6" y2="2016" stroke-width="1.6"/>
<line x1="1094.9" y1="1948.5" x2="1112.3" y2="1948.5" stroke-width="1.6"/>
<line x1="1094.9" y1="2016" x2="1112.3" y2="2016" stroke-width="1.6"/>
<circle cx="790.6" cy="1853.4" r="8.1" fill="#231f20" stroke="none"/>
<circle cx="894.4" cy="1988.2" r="8.1" fill="#231f20" stroke="none"/>
<circle cx="998.2" cy="2054.9" r="8.1" fill="#231f20" stroke="none"/>
<circle cx="1102" cy="1981" r="8.1" fill="#231f20" stroke="none"/>
<path d="M792.1 1850.8 L896 2010.3 L999.7 2106.1 L1103.6 2051" fill="none" stroke-width="2.05" stroke-linejoin="round"/>
<line x1="792.1" y1="1829" x2="792.1" y2="1871.6" stroke-width="1.6"/>
<line x1="783.4" y1="1829" x2="800.8" y2="1829" stroke-width="1.6"/>
<line x1="783.4" y1="1871.6" x2="800.8" y2="1871.6" stroke-width="1.6"/>
<line x1="896" y1="1998.1" x2="896" y2="2027.7" stroke-width="1.6"/>
<line x1="887.3" y1="1998.1" x2="904.7" y2="1998.1" stroke-width="1.6"/>
<line x1="887.3" y1="2027.7" x2="904.7" y2="2027.7" stroke-width="1.6"/>
<line x1="999.7" y1="2070" x2="999.7" y2="2139.8" stroke-width="1.6"/>
<line x1="991" y1="2070" x2="1008.4" y2="2070" stroke-width="1.6"/>
<line x1="991" y1="2139.8" x2="1008.4" y2="2139.8" stroke-width="1.6"/>
<line x1="1103.6" y1="2023.5" x2="1103.6" y2="2077.8" stroke-width="1.6"/>
<line x1="1094.9" y1="2023.5" x2="1112.3" y2="2023.5" stroke-width="1.6"/>
<line x1="1094.9" y1="2077.8" x2="1112.3" y2="2077.8" stroke-width="1.6"/>
<circle cx="790.6" cy="1849" r="7.35" fill="#fff" stroke-width="1.6"/>
<circle cx="894.4" cy="2008.5" r="7.35" fill="#fff" stroke-width="1.6"/>
<circle cx="998.2" cy="2104.3" r="7.35" fill="#fff" stroke-width="1.6"/>
<circle cx="1102" cy="2049.2" r="7.35" fill="#fff" stroke-width="1.6"/>
</g>
<text transform="translate(713 1781.5) scale(1 1.03)" font-size="29" text-anchor="end">0.5</text>
<text transform="translate(713 1864.3) scale(1 1.03)" font-size="29" text-anchor="end">0.0</text>
<text transform="translate(713 1947.1) scale(1 1.03)" font-size="29" text-anchor="end">-0.5</text>
<text transform="translate(713 2029.9) scale(1 1.03)" font-size="29" text-anchor="end">-1.0</text>
<text transform="translate(713 2112.7) scale(1 1.03)" font-size="29" text-anchor="end">-1.5</text>
<text transform="translate(713 2195.5) scale(1 1.03)" font-size="29" text-anchor="end">-2.0</text>
<text transform="translate(791.8 2235.2) scale(1 1.03)" font-size="29" text-anchor="middle">20</text>
<text transform="translate(895.7 2235.2) scale(1 1.03)" font-size="29" text-anchor="middle">30</text>
<text transform="translate(999.4 2235.2) scale(1 1.03)" font-size="29" text-anchor="middle">40</text>
<text transform="translate(1103.3 2235.2) scale(1 1.03)" font-size="29" text-anchor="middle">50</text>
<text x="948.3" y="1760.1" font-size="33.8" font-style="italic" text-anchor="middle">TaYUC11</text>
<text x="762.3" y="1811.6" font-size="37.7" font-weight="bold">h</text>
<text x="354.1" y="26.3" font-size="38.9" text-anchor="middle" font-weight="bold">Embryo</text>
<text x="961.8" y="26" font-size="38.9" text-anchor="middle" font-weight="bold">Endosperm</text>
<text x="350.6" y="2295.5" font-size="32" text-anchor="middle">DAA</text>
<text x="947.8" y="2300" font-size="32" text-anchor="middle">DAA</text>
<text x="194.1" y="758.9" font-size="32" text-anchor="middle">*</text>
<g stroke="#231f20">
<line x1="313.7" y1="155.9" x2="380" y2="155.9" stroke-width="1.8"/>
<line x1="313.7" y1="193.7" x2="380" y2="193.7" stroke-width="1.8"/>
<circle cx="345" cy="154" r="8.1" fill="#231f20" stroke="none"/>
<circle cx="345" cy="192" r="7.35" fill="#fff" stroke-width="1.6"/>
</g>
<text transform="translate(395.9 165.4) scale(1 1.02)" font-size="29">AC Domain</text>
<text transform="translate(395.9 203) scale(1 1.02)" font-size="29">RL4452</text>
</svg>
</body></html>
